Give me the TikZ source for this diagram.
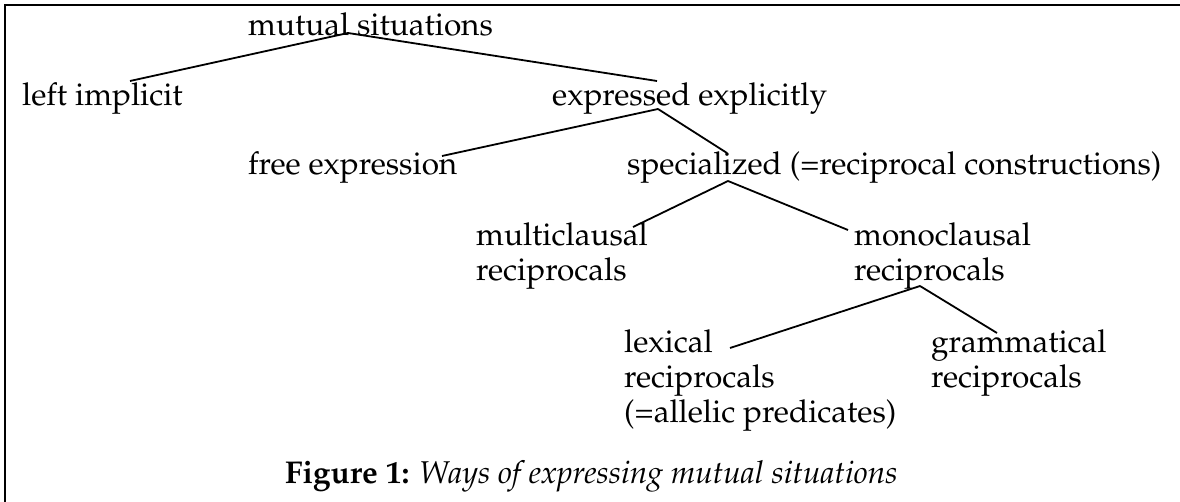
\documentclass[tikz,border=0pt]{standalone}
\usepackage[T1]{fontenc}
\usepackage{mathpazo}
\usepackage{tikz}

\tikzset{
  term/.style={inner sep=0pt, anchor=base west, align=left,
    font=\fontsize{31.5}{35}\selectfont},
  branch/.style={line width=1.8pt},
}

\begin{document}
\begin{tikzpicture}[x=1pt,y=-1pt]
\useasboundingbox (0,0) rectangle (1180,502);

%frame, only top and left edges show
\draw [line width=2.5pt] (5,502) -- (5,5) -- (1180,5);

%terms (base = last line)
\node [term] (ms) at (248,36) {mutual situations};
\node [term] (li) at (22,106) {left implicit};
\node [term] (ee) at (552,106) {expressed explicitly};
\node [term] (fe) at (248,175) {free expression};
\node [term] (sp) at (627,175) {specialized (=reciprocal constructions)};
\node [term] (mc) at (476,281) {multiclausal\\reciprocals};
\node [term] (mo) at (854,281) {monoclausal\\reciprocals};
\node [term] (lx) at (624,422) {lexical\\reciprocals\\(=allelic predicates)};
\node [term] (gr) at (931,387) {grammatical\\reciprocals};

%ends of the branches
\coordinate (ms-b) at (348,33);
\coordinate (li-t) at (130,81);
\coordinate (ee-t) at (657,81);
\coordinate (ee-b) at (658,109);
\coordinate (fe-t) at (442,156);
\coordinate (sp-t) at (727,153);
\coordinate (sp-b) at (728,181);
\coordinate (mc-t) at (633,227);
\coordinate (mo-t) at (848,230);
\coordinate (mo-b) at (920,286);
\coordinate (lx-t) at (730,348);
\coordinate (gr-t) at (997,333);

%branches
\draw [branch] (ms-b) -- (li-t);
\draw [branch] (ms-b) -- (ee-t);
\draw [branch] (ee-b) -- (fe-t);
\draw [branch] (ee-b) -- (sp-t);
\draw [branch] (sp-b) -- (mc-t);
\draw [branch] (sp-b) -- (mo-t);
\draw [branch] (mo-b) -- (lx-t);
\draw [branch] (mo-b) -- (gr-t);

%caption
\node [term] (cap) at (285,483) {\textbf{Figure 1:} \textit{Ways of expressing mutual situations}};

\end{tikzpicture}
\end{document}
